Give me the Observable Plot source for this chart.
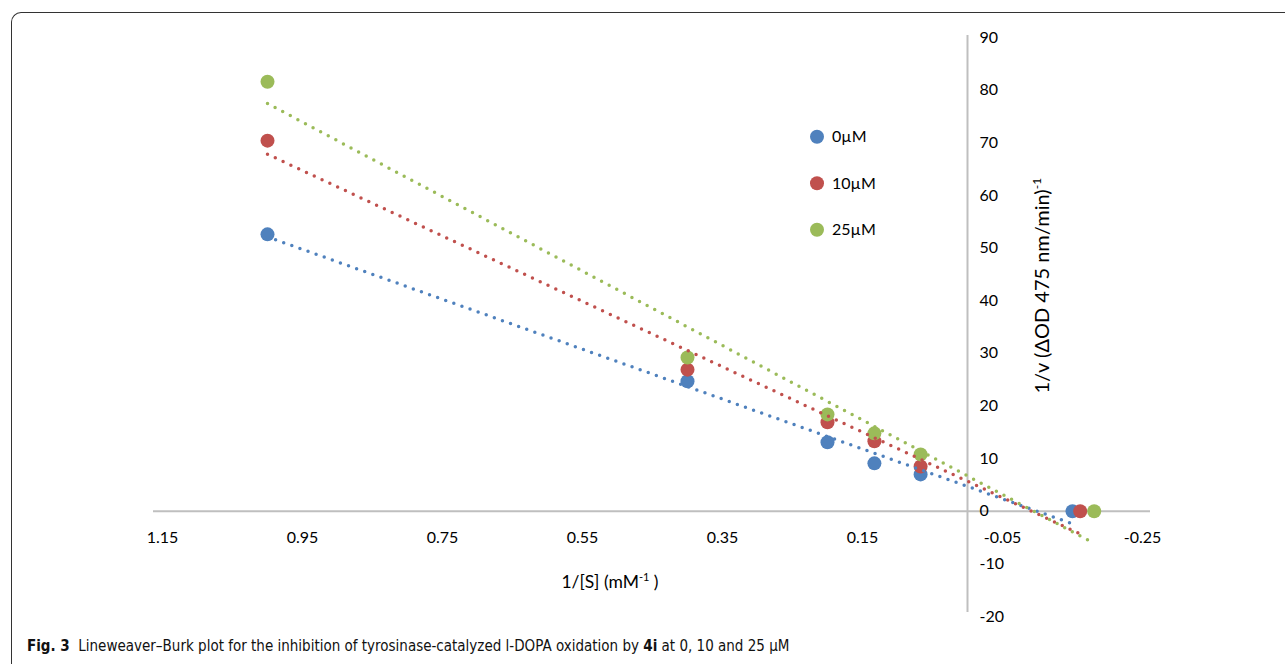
<!DOCTYPE html>
<html><head><meta charset="utf-8">
<script src="https://cdn.jsdelivr.net/npm/d3@7"></script>
<script src="https://cdn.jsdelivr.net/npm/@observablehq/plot@0.6"></script>
<style>
body{margin:0;background:#fff;width:1285px;height:664px;overflow:hidden;position:relative;font-family:Lato,"Open Sans",sans-serif;}
#frame{position:absolute;left:11px;top:12px;width:1300px;height:700px;border-left:1.5px solid #333;border-top:1.5px solid #333;border-top-left-radius:10px;}
#chart{position:absolute;left:0;top:0;}
#caption{position:absolute;left:27px;top:637px;font-family:"Liberation Sans Narrow","DejaVu Sans Condensed",sans-serif;font-size:15px;color:#111;white-space:nowrap;}
</style></head>
<body>
<div id="frame"></div>
<div id="chart"></div>
<div id="caption"><b>Fig. 3</b>&nbsp; Lineweaver–Burk plot for the inhibition of tyrosinase-catalyzed l-DOPA oxidation by <b>4i</b> at 0, 10 and 25 µM</div>
<script>
// ---- data ----
const seriesNames = ["0µM", "10µM", "25µM"];
const seriesColors = ["#4F81BD", "#C0504D", "#9BBB59"];
const invS = [1.0, 0.4, 0.2, 0.133, 0.067];          // 1/[S] (mM^-1)
const xIntercepts = [-0.15, -0.161, -0.181];          // extrapolated point per series (1/v = 0)
const v0 = [52.6, 24.7, 13.1, 9.1, 7.0];              // 0 µM
const v10 = [70.4, 26.9, 16.9, 13.3, 8.5];            // 10 µM
const v25 = [81.6, 29.2, 18.4, 14.8, 10.8];           // 25 µM
const xTicks = [1.15, 0.95, 0.75, 0.55, 0.35, 0.15, -0.05, -0.25];
const yTicks = [90, 80, 70, 60, 50, 40, 30, 20, 10, 0, -10, -20];

const seriesValues = [v0, v10, v25];
const points = [];
seriesNames.forEach((s, i) => {
  invS.forEach((x, j) => points.push({series: s, x, y: seriesValues[i][j]}));
  points.push({series: s, x: xIntercepts[i], y: 0});
});

const axisColor = "#bfbfbf";
const chart = Plot.plot({
  width: 1285, height: 630,
  marginLeft: 162, marginRight: 143, marginTop: 37, marginBottom: 14,
  style: {fontFamily: "Lato, 'Open Sans', sans-serif", fontSize: "16px", color: "#000", background: "transparent"},
  x: {domain: [1.15, -0.25], axis: null},
  y: {domain: [-20, 90], axis: null},
  color: {domain: seriesNames, range: seriesColors},
  marks: [
    Plot.ruleY([0], {stroke: axisColor, strokeWidth: 2, insetLeft: -9, insetRight: -8}),
    Plot.ruleX([0], {stroke: axisColor, strokeWidth: 2, insetTop: -2, insetBottom: 4}),
    Plot.dot(points, {x: "x", y: "y", fill: "series", r: 7}),
    Plot.linearRegressionY(points, {x: "x", y: "y", stroke: "series", ci: 0, strokeWidth: 3.5,
      strokeOpacity: 1, strokeDasharray: "0 8.6", strokeLinecap: "round"}),
    Plot.text(yTicks, {x: 0, y: d => d, text: d => String(d), dx: 12, textAnchor: "start", fill: "#000"}),
    Plot.text(xTicks, {x: d => d, y: 0, text: d => d.toFixed(2), dy: 27, fill: "#000"})
  ]
});
document.getElementById("chart").appendChild(chart);

// axis titles & legend
const svg = d3.select(chart);
const sx = chart.scale("x"), sy = chart.scale("y");
const x0 = sx.apply(0), y0 = sy.apply(0);

const yl = svg.append("text")
  .attr("transform", `translate(${x0 + 82},${y0 - 225}) rotate(-90)`)
  .attr("text-anchor", "middle").attr("font-size", 20).attr("fill", "#000");
yl.append("tspan").text("1/v (ΔOD 475 nm/min)");
yl.append("tspan").attr("dy", -8).attr("font-size", 12).text("-1");

const xl = svg.append("text")
  .attr("x", 610).attr("y", 588)
  .attr("text-anchor", "middle").attr("font-size", 17.5).attr("fill", "#000");
xl.append("tspan").text("1/[S] (mM");
xl.append("tspan").attr("dy", -7).attr("font-size", 11).text("-1");
xl.append("tspan").attr("dy", 7).text(" )");

const lg = svg.append("g").attr("text-anchor", "start");
seriesNames.forEach((s, i) => {
  const cy = 136.7 + 46.5 * i;
  lg.append("circle").attr("cx", 817).attr("cy", cy).attr("r", 7).attr("fill", seriesColors[i]);
  lg.append("text").attr("x", 832).attr("y", cy).attr("dy", "0.35em").attr("font-size", 16).attr("fill", "#000").text(s);
});
</script>
</body></html>
